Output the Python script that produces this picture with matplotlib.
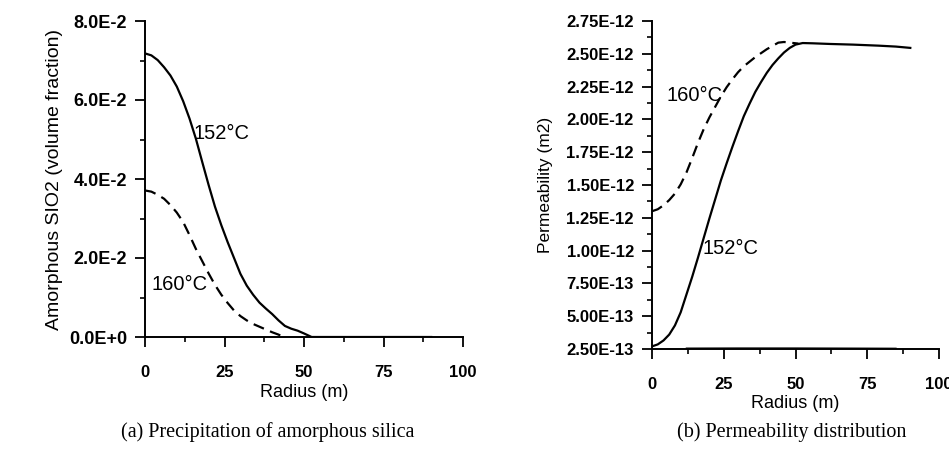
import matplotlib
matplotlib.use("Agg")
import matplotlib.pyplot as plt
from matplotlib.ticker import FixedLocator, FixedFormatter, MultipleLocator

# ---- data ----
# (a) amorphous silica volume fraction vs radius
r152_a = [0, 2, 4, 6, 8, 10, 12, 14, 16, 18, 20, 22, 24, 26, 28, 30, 32, 34, 36, 38, 40, 42, 44,
          46, 48, 50, 52.4, 60, 70, 80, 90]
v152_a = [0.0718, 0.0713, 0.0701, 0.0683, 0.0662, 0.0634, 0.0597, 0.0553, 0.0502, 0.0443, 0.0385,
          0.0330, 0.0283, 0.0240, 0.0200, 0.0160, 0.0130, 0.0107, 0.0087, 0.0072, 0.0058, 0.0042,
          0.0028, 0.0021, 0.0016, 0.0009, 0.0, 0.0, 0.0, 0.0, 0.0]
r160_a = [0, 2, 4, 6, 8, 10, 12, 14, 16, 18, 20, 22, 24, 26, 28, 30, 32, 34, 36, 38, 40, 42, 43.5]
v160_a = [0.0371, 0.0368, 0.0360, 0.0350, 0.0334, 0.0315, 0.0291, 0.0258, 0.0223, 0.0192, 0.0161,
          0.0132, 0.0107, 0.0086, 0.0067, 0.0053, 0.0042, 0.0033, 0.0026, 0.0019, 0.0012, 0.0006, 0.0]

# (b) permeability (m2) vs radius, values in 1e-12 m2
r152_b = [0, 2, 4, 6, 8, 10, 12, 14, 16, 18, 20, 22, 24, 26, 28, 30, 32, 34, 36, 38, 40, 42, 44,
          46, 48, 50, 52.5, 56, 62, 70, 79, 85, 90]
k152_b = [0.27, 0.285, 0.315, 0.36, 0.43, 0.53, 0.665, 0.80, 0.945, 1.095, 1.245, 1.39, 1.535,
          1.665, 1.79, 1.91, 2.025, 2.12, 2.21, 2.285, 2.355, 2.415, 2.465, 2.51, 2.545, 2.57,
          2.582, 2.58, 2.575, 2.57, 2.562, 2.555, 2.545]
r160_b = [0, 2, 4, 6, 8, 10, 12, 14, 16, 18, 20, 22, 24, 26, 28, 30, 32, 34, 36, 38, 40, 42, 44,
          46, 48, 51]
k160_b = [1.30, 1.315, 1.345, 1.385, 1.435, 1.505, 1.595, 1.705, 1.82, 1.925, 2.015, 2.095, 2.175,
          2.245, 2.305, 2.36, 2.405, 2.44, 2.475, 2.505, 2.535, 2.56, 2.585, 2.59, 2.585, 2.578]
r_base_b = [12, 30, 50, 70, 85]
k_base_b = [0.256, 0.257, 0.257, 0.256, 0.255]

xticks = [0, 25, 50, 75, 100]
xticklabels = ["0", "25", "50", "75", "100"]
yticks_a = [0.0, 0.02, 0.04, 0.06, 0.08]
yticklabels_a = ["0.0E+0", "2.0E-2", "4.0E-2", "6.0E-2", "8.0E-2"]
yticks_b = [0.25, 0.5, 0.75, 1.0, 1.25, 1.5, 1.75, 2.0, 2.25, 2.5, 2.75]
yticklabels_b = ["2.50E-13", "5.00E-13", "7.50E-13", "1.00E-12", "1.25E-12", "1.50E-12",
                 "1.75E-12", "2.00E-12", "2.25E-12", "2.50E-12", "2.75E-12"]

SANS = "Liberation Sans"
SERIF = "Liberation Serif"

fig = plt.figure(figsize=(9.49, 4.5), dpi=100)
axA = fig.add_axes([145/949, (450-337)/450, 318/949, 316/450])
axB = fig.add_axes([652/949, (450-349)/450, 287/949, 328/450])

lw = 1.6
for ax in (axA, axB):
    ax.spines["top"].set_visible(False)
    ax.spines["right"].set_visible(False)
    ax.spines["left"].set_linewidth(1.4)
    ax.spines["bottom"].set_linewidth(1.4)
    ax.set_xlim(0, 100)
    ax.xaxis.set_major_locator(FixedLocator(xticks))
    ax.xaxis.set_major_formatter(FixedFormatter(xticklabels))
    ax.xaxis.set_minor_locator(MultipleLocator(12.5))
    ax.tick_params(axis="both", which="major", direction="out", length=7, width=1.3, labelsize=12)
    ax.tick_params(axis="both", which="minor", direction="out", length=3.5, width=1.2)
    ax.tick_params(axis="x", which="major", pad=13)
    ax.tick_params(axis="y", which="major", pad=6)
axA.tick_params(axis="y", which="major", labelsize=13)

def style_ticklabels(ax):
    for lab in ax.get_xticklabels() + ax.get_yticklabels():
        lab.set_fontfamily(SANS)
        lab.set_fontweight("bold")

# (a)
axA.plot(r152_a, v152_a, color="black", lw=lw)
lA, = axA.plot(r160_a, v160_a, color="black", lw=lw)
lA.set_dashes([5, 3])
axA.set_ylim(0, 0.08)
axA.yaxis.set_major_locator(FixedLocator(yticks_a))
axA.yaxis.set_major_formatter(FixedFormatter(yticklabels_a))
axA.yaxis.set_minor_locator(MultipleLocator(0.01))
style_ticklabels(axA)
axA.set_xlabel("Radius (m)", fontfamily=SANS, fontsize=13, labelpad=3)
axA.set_ylabel("Amorphous SIO2 (volume fraction)", fontfamily=SANS, fontsize=14, labelpad=4)
axA.text(15.1, 0.0514, "152°C", fontfamily=SANS, fontsize=14.5, ha="left", va="center")
axA.text(2.2, 0.0132, "160°C", fontfamily=SANS, fontsize=14.5, ha="left", va="center")

# (b)
axB.plot(r152_b, k152_b, color="black", lw=lw)
lB, = axB.plot(r160_b, k160_b, color="black", lw=lw)
lB.set_dashes([5, 3])
axB.plot(r_base_b, k_base_b, color="black", lw=1.0)
axB.set_ylim(0.25, 2.75)
axB.yaxis.set_major_locator(FixedLocator(yticks_b))
axB.yaxis.set_major_formatter(FixedFormatter(yticklabels_b))
axB.yaxis.set_minor_locator(MultipleLocator(0.125))
style_ticklabels(axB)
axB.set_xlabel("Radius (m)", fontfamily=SANS, fontsize=13, labelpad=2)
axB.set_ylabel("Permeability (m2)", fontfamily=SANS, fontsize=12.5, labelpad=10)
axB.text(5.2, 2.18, "160°C", fontfamily=SANS, fontsize=14.5, ha="left", va="center")
axB.text(17.7, 1.013, "152°C", fontfamily=SANS, fontsize=14.5, ha="left", va="center")

fig.text(268/949, 1 - 432/450, "(a) Precipitation of amorphous silica", fontfamily=SERIF,
         fontsize=14.5, ha="center", va="center")
fig.text(792/949, 1 - 432/450, "(b) Permeability distribution", fontfamily=SERIF,
         fontsize=14.5, ha="center", va="center")

fig.savefig("out.png", dpi=100)
